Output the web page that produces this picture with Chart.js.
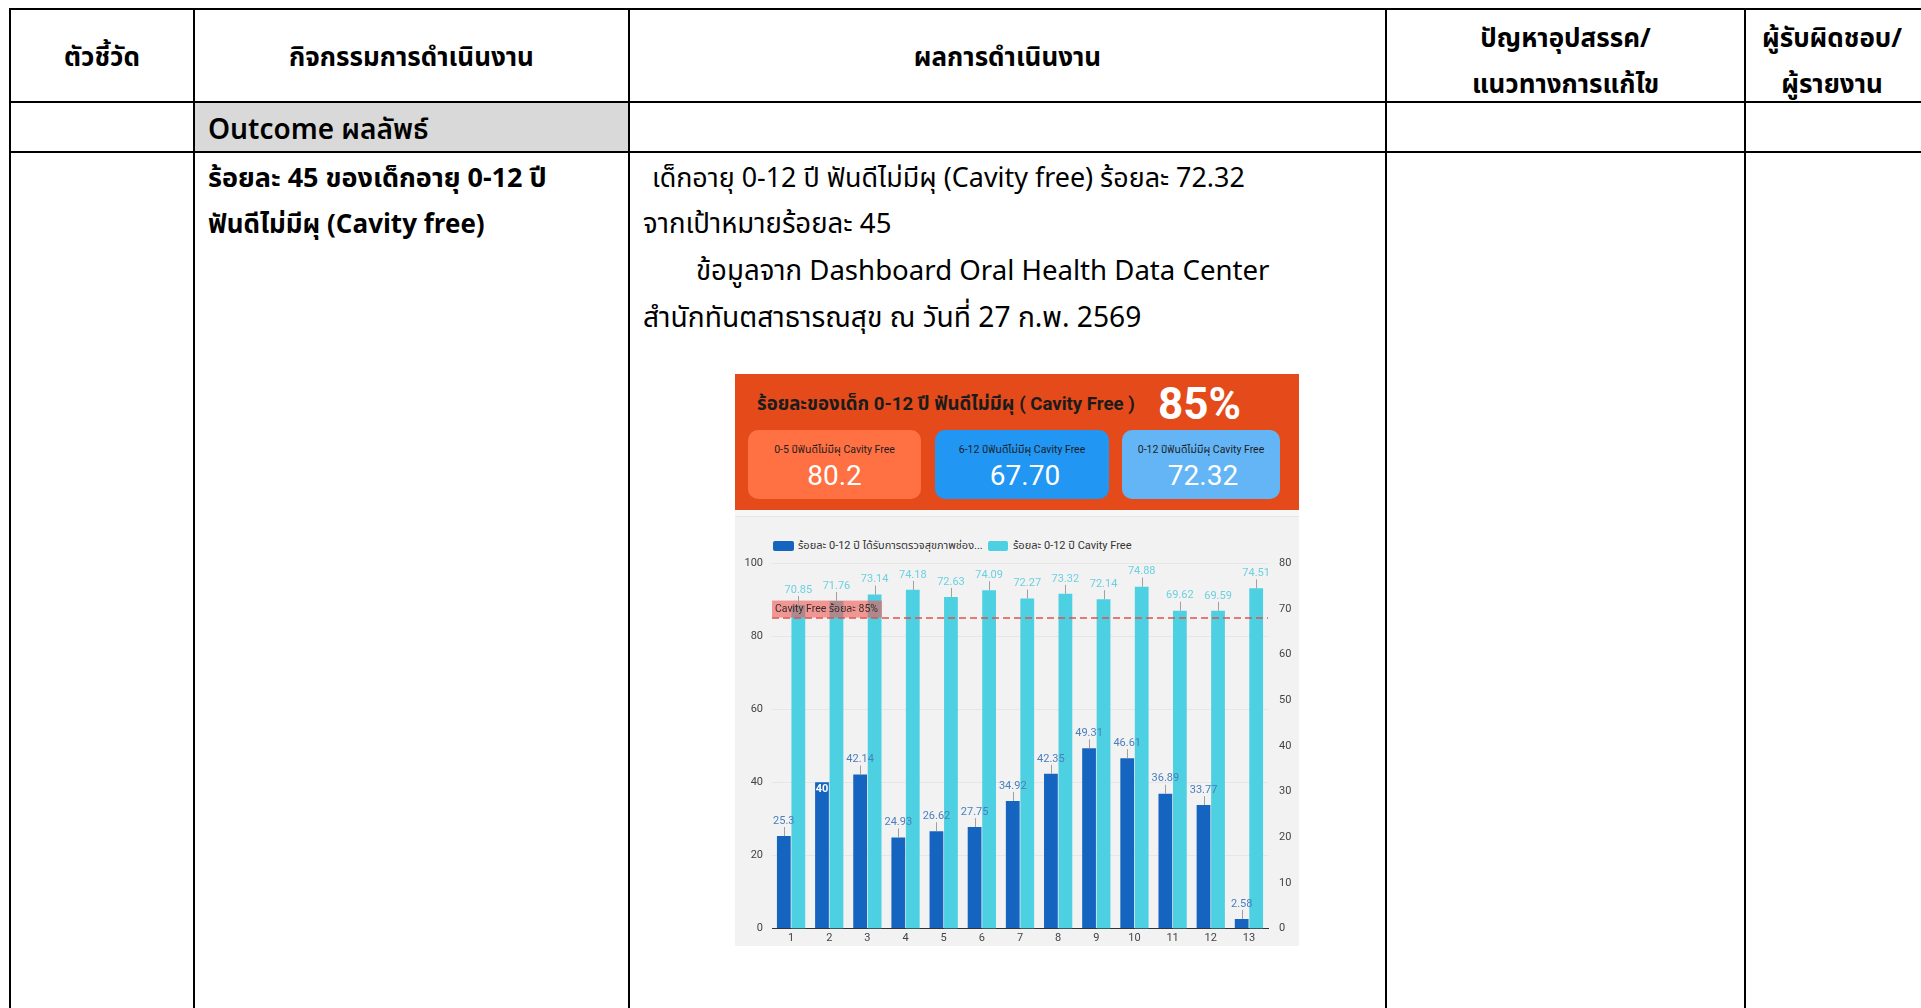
<!DOCTYPE html>
<html lang="th">
<head>
<meta charset="utf-8">
<title>Cavity Free 0-12 ปี</title>
<script src="https://cdn.jsdelivr.net/npm/chart.js@4.4.1/dist/chart.umd.min.js"></script>
<style>
  html, body { margin: 0; padding: 0; background: #fff; }
  body {
    width: 1921px; height: 1008px; overflow: hidden; position: relative;
    font-family: "Noto Sans Thai", "Leelawadee UI", Tahoma, "Noto Sans", sans-serif;
    color: #000;
  }
  .hl { position: absolute; height: 2px; background: #000; left: 9px; right: 0; }
  .vl { position: absolute; width: 2px; background: #000; top: 8px; bottom: 0; }
  .t { position: absolute; white-space: nowrap; line-height: 46px; font-size: 26px; }
  .r { font-size: 27.6px; }
  .b { font-weight: 700; }
  .c { text-align: center; }

  #dash { position: absolute; left: 735px; top: 374px; width: 564px; height: 572px; background: #f2f2f2;
    font-family: Roboto, "Noto Sans Thai", sans-serif; }
  #dhead { position: absolute; left: 0; top: 0; width: 564px; height: 136px; background: #e44a1a; }
  #dtitle { position: absolute; left: 22px; top: 18px; line-height: 24px; font-size: 18.6px; font-weight: 700;
    color: #1b1b1b; white-space: nowrap; }
  #dbig { position: absolute; left: 423px; top: 5px; line-height: 50px; font-size: 44px; font-weight: 700;
    color: #fff; }
  .card { position: absolute; top: 56px; height: 69px; border-radius: 10px; text-align: center; }
  .card .lab { position: absolute; left: 0; right: 0; top: 12px; line-height: 16px; font-size: 10.5px; color: #1e1e1e; }
  .card .val { position: absolute; left: 0; right: 0; top: 30px; line-height: 32px; font-size: 28px; color: #fff; }
  #stripe { position: absolute; left: 0; top: 136px; width: 564px; height: 6px; background: #f7f7f7;
    border-bottom: 1px solid #e6e6e6; }
  .lg-box { position: absolute; height: 10px; border-radius: 2px; }
  .lg-txt { position: absolute; font-size: 11px; line-height: 14px; color: #333; white-space: nowrap; }
  #chartWrap { position: absolute; left: 0; top: 142px; width: 564px; height: 430px; }
</style>
</head>
<body>

<!-- table grid -->
<div class="hl" style="top:8px"></div>
<div class="hl" style="top:101px"></div>
<div class="hl" style="top:151px"></div>
<div class="vl" style="left:9px"></div>
<div class="vl" style="left:193px"></div>
<div class="vl" style="left:628px"></div>
<div class="vl" style="left:1385px"></div>
<div class="vl" style="left:1744px"></div>
<div style="position:absolute;left:195px;top:103px;width:433px;height:48px;background:#d9d9d9"></div>

<!-- header row -->
<div class="t b c" style="left:11px;width:182px;top:35px">ตัวชี้วัด</div>
<div class="t b c" style="left:195px;width:433px;top:35px">กิจกรรมการดำเนินงาน</div>
<div class="t b c" style="left:630px;width:755px;top:35px">ผลการดำเนินงาน</div>
<div class="t b c" style="left:1387px;width:357px;top:16px">ปัญหาอุปสรรค/</div>
<div class="t b c" style="left:1387px;width:357px;top:62px">แนวทางการแก้ไข</div>
<div class="t b c" style="left:1746px;width:172px;top:16px">ผู้รับผิดชอบ/</div>
<div class="t b c" style="left:1746px;width:172px;top:62px">ผู้รายงาน</div>

<!-- outcome row -->
<div class="t" style="left:208px;top:108px;font-size:28px;font-weight:600">Outcome ผลลัพธ์</div>

<!-- body row -->
<div class="t b" style="left:208px;top:156px;font-size:27px">ร้อยละ 45 ของเด็กอายุ 0-12 ปี</div>
<div class="t b" style="left:208px;top:202px">ฟันดีไม่มีผุ (Cavity free)</div>
<div class="t" style="left:652px;top:156px;font-size:26.9px">เด็กอายุ 0-12 ปี ฟันดีไม่มีผุ (Cavity free) ร้อยละ 72.32</div>
<div class="t r" style="left:643px;top:202px">จากเป้าหมายร้อยละ 45</div>
<div class="t r" style="left:696px;top:249px">ข้อมูลจาก Dashboard Oral Health Data Center</div>
<div class="t r" style="left:643px;top:296px;font-size:28.2px">สำนักทันตสาธารณสุข ณ วันที่ 27 ก.พ. 2569</div>

<!-- dashboard capture -->
<div id="dash">
  <div id="dhead">
    <div id="dtitle">ร้อยละของเด็ก 0-12 ปี ฟันดีไม่มีผุ ( Cavity Free )</div>
    <div id="dbig">85%</div>
    <div class="card" style="left:13px;width:173px;background:#ff7043">
      <div class="lab">0-5 ปีฟันดีไม่มีผุ Cavity Free</div>
      <div class="val">80.2</div>
    </div>
    <div class="card" style="left:200px;width:174px;background:#2196f3">
      <div class="lab">6-12 ปีฟันดีไม่มีผุ Cavity Free</div>
      <div class="val" style="left:6px">67.70</div>
    </div>
    <div class="card" style="left:387px;width:158px;background:#64b5f6">
      <div class="lab">0-12 ปีฟันดีไม่มีผุ Cavity Free</div>
      <div class="val" style="left:4px">72.32</div>
    </div>
  </div>
  <div id="stripe"></div>
  <div class="lg-box" style="left:38px;top:167px;width:21px;background:#1565c0"></div>
  <div class="lg-txt" id="lg0" style="left:63px;top:165px"></div>
  <div class="lg-box" style="left:253px;top:167px;width:20px;background:#4dd0e1"></div>
  <div class="lg-txt" id="lg1" style="left:278px;top:165px"></div>
  <div id="chartWrap"><canvas id="chart"></canvas></div>
</div>

<script>
'use strict';

const categories = ['1', '2', '3', '4', '5', '6', '7', '8', '9', '10', '11', '12', '13'];
const examinedPct = [25.3, 40, 42.14, 24.93, 26.62, 27.75, 34.92, 42.35, 49.31, 46.61, 36.89, 33.77, 2.58];
const cavityFreePct = [70.85, 71.76, 73.14, 74.18, 72.63, 74.09, 72.27, 73.32, 72.14, 74.88, 69.62, 69.59, 74.51];
const seriesNames = ['ร้อยละ 0-12 ปี ได้รับการตรวจสุขภาพช่อง...', 'ร้อยละ 0-12 ปี Cavity Free'];
const leftTicks = [0, 20, 40, 60, 80, 100];
const rightTicks = [0, 10, 20, 30, 40, 50, 60, 70, 80];
const targetPct = 85;
const targetLabel = 'Cavity Free ร้อยละ 85%';

/* Colours */
const DARK_BLUE = '#1565c0';
const CYAN = '#4dd0e1';
const TICK_FONT = { family: 'Roboto', size: 11 };

document.getElementById('lg0').textContent = seriesNames[0];
document.getElementById('lg1').textContent = seriesNames[1];

/* Dashed target line with its tag */
const targetLine = {
  id: 'targetLine',
  afterDatasetsDraw(chart) {
    const { ctx, chartArea, scales } = chart;
    const y = scales.y.getPixelForValue(targetPct);
    ctx.save();
    ctx.font = '10.5px Roboto, "Noto Sans Thai", sans-serif';
    const w = ctx.measureText(targetLabel).width + 7;
    ctx.fillStyle = 'rgba(238, 88, 84, 0.6)';
    ctx.fillRect(chartArea.left, y - 17.5, w, 17);
    ctx.fillStyle = '#3a2a2a';
    ctx.textBaseline = 'middle';
    ctx.fillText(targetLabel, chartArea.left + 3, y - 9);
    ctx.strokeStyle = '#e0524c';
    ctx.lineWidth = 1.5;
    ctx.setLineDash([7, 4]);
    ctx.beginPath();
    ctx.moveTo(chartArea.left, y);
    ctx.lineTo(chartArea.right, y);
    ctx.stroke();
    ctx.restore();
  }
};

/* Value labels above bars, with a short leader line */
const barLabels = {
  id: 'barLabels',
  afterDatasetsDraw(chart, args, opts) {
    const ctx = chart.ctx;
    ctx.save();
    ctx.textAlign = 'center';
    ctx.textBaseline = 'middle';
    chart.data.datasets.forEach((ds, di) => {
      const meta = chart.getDatasetMeta(di);
      const inside = opts.inside[di] || [];
      meta.data.forEach((bar, i) => {
        const text = String(ds.data[i]);
        if (inside.includes(i)) {
          ctx.font = 'bold 11px Roboto';
          ctx.fillStyle = '#fff';
          ctx.fillText(text, bar.x, bar.y + 7);
          return;
        }
        const lx = Math.round(bar.x) + 0.5;
        ctx.strokeStyle = '#a0a0a0';
        ctx.lineWidth = 1;
        ctx.beginPath();
        ctx.moveTo(lx, bar.y);
        ctx.lineTo(lx, bar.y - 9);
        ctx.stroke();
        ctx.font = '11px Roboto';
        ctx.fillStyle = opts.colors[di];
        ctx.fillText(text, bar.x, bar.y - 15);
      });
    });
    ctx.restore();
  }
};

function initChart() {
  const ctx = document.getElementById('chart').getContext('2d');
  new Chart(ctx, {
    type: 'bar',
    data: {
      labels: categories,
      datasets: [
        {
          label: seriesNames[0],
          data: examinedPct,
          backgroundColor: DARK_BLUE,
          yAxisID: 'y',
          barPercentage: 0.95,
          categoryPercentage: 0.76,
        },
        {
          label: seriesNames[1],
          data: cavityFreePct,
          backgroundColor: CYAN,
          yAxisID: 'y1',
          barPercentage: 0.95,
          categoryPercentage: 0.76,
        },
      ],
    },
    options: {
      responsive: true,
      maintainAspectRatio: false,
      animation: false,
      layout: { padding: { top: 47.3, left: 0, right: 0, bottom: 0 } },
      plugins: {
        legend: { display: false },
        tooltip: { enabled: false },
        barLabels: { colors: ['#4a7ebd', '#6cd0e0'], inside: [[1], []] },
      },
      scales: {
        x: {
          grid: { display: false, drawTicks: false },
          border: { display: true, color: '#333', width: 1 },
          ticks: { color: '#444', font: TICK_FONT, padding: 3, maxRotation: 0 },
          afterFit(s) { s.height = 17.5; },
        },
        y: {
          position: 'left',
          min: 0,
          max: 100,
          afterBuildTicks(s) { s.ticks = leftTicks.map(v => ({ value: v })); },
          ticks: { color: '#444', font: TICK_FONT, padding: 9 },
          grid: { color: '#e6e6e6', drawTicks: false },
          border: { display: false },
          afterFit(s) { s.width = 37; },
        },
        y1: {
          position: 'right',
          min: 0,
          max: 80,
          afterBuildTicks(s) { s.ticks = rightTicks.map(v => ({ value: v })); },
          ticks: { color: '#444', font: TICK_FONT, padding: 11 },
          grid: { display: false, drawTicks: false },
          border: { display: false },
          afterFit(s) { s.width = 31; },
        },
      },
    },
    plugins: [targetLine, barLabels],
  });
}

document.addEventListener('DOMContentLoaded', initChart);
</script>
</body>
</html>
